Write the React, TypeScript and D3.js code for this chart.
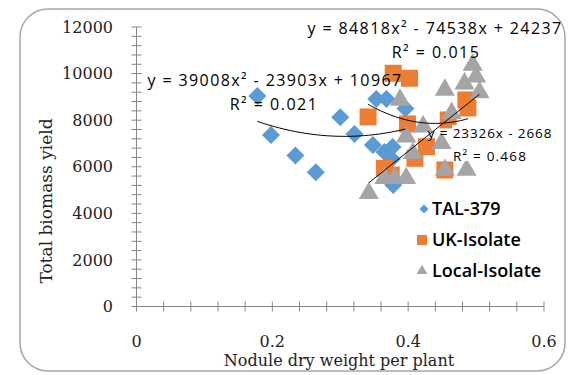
import React from 'react';
import * as d3 from 'd3';

const W = 570;
const H = 375;

// series: [nodule dry weight, total biomass]
const tal379: [number, number][] = [
  [0.178, 9040], [0.198, 7364], [0.234, 6483], [0.264, 5762], [0.300, 8128],
  [0.321, 7407], [0.353, 8910], [0.368, 8910], [0.348, 6935], [0.365, 6634],
  [0.377, 6849], [0.376, 6334], [0.378, 5217], [0.396, 8500],
];
const ukIsolate: [number, number][] = [
  [0.341, 8138], [0.378, 10014], [0.402, 9800], [0.399, 7837], [0.459, 8009],
  [0.485, 8867], [0.488, 8524], [0.365, 5934], [0.375, 5646], [0.410, 6363],
  [0.427, 6861], [0.454, 5861],
];
const localIsolate: [number, number][] = [
  [0.342, 4861], [0.365, 5505], [0.380, 5505], [0.397, 5505], [0.388, 8867],
  [0.454, 9297], [0.495, 10370], [0.500, 9867], [0.483, 9566], [0.505, 9190],
  [0.464, 8295], [0.422, 7721], [0.397, 7291], [0.407, 6578], [0.449, 7007],
  [0.454, 5861], [0.486, 5861],
];

// trendlines as printed on the chart
const talFit = [39008, -23903, 10967];
const ukFit = [84818, -74538, 24237];
const localFit = [0, 23326, -2668];

const seriesNames = ['TAL-379', 'UK-Isolate', 'Local-Isolate'];
const colors = ['#5B9BD5', '#ED7D31', '#A5A5A5'];

const yTicks = [0, 2000, 4000, 6000, 8000, 10000, 12000];
const xTicks = [0, 0.2, 0.4, 0.6];

const x = d3.scaleLinear().domain([0, 0.6]).range([136.5, 544]);
const y = d3.scaleLinear().domain([0, 12000]).range([306.5, 27]);

const fitPath = (c: number[], pts: [number, number][]) => {
  const [lo, hi] = d3.extent(pts, d => d[0]) as [number, number];
  const xs = d3.range(0, 41).map(i => lo + (hi - lo) * i / 40);
  return d3.line<number>()
    .x(v => x(v))
    .y(v => y(c[0] * v * v + c[1] * v + c[2]))(xs) || '';
};

const diamond = d3.symbol().type(d3.symbolSquare).size(162)() || '';
const square = d3.symbol().type(d3.symbolSquare).size(289)() || '';
const triangle = d3.symbol().type(d3.symbolTriangle).size(175)() || '';

const App = () => {
  const sans = '"Open Sans", sans-serif';
  const serif = '"DejaVu Serif", serif';
  const yMinor = d3.range(0, 12001, 400);
  const xMinor = d3.range(0, 0.6001, 0.04);

  return (
    <svg width={W} height={H} style={{ position: 'absolute', left: 0, top: 0 }}>
      <rect x={0} y={0} width={W} height={H} fill="#fff" />
      <rect x={20} y={9} width={545} height={362} rx={28} ry={28}
        fill="#fff" stroke="#A6A6A6" strokeWidth={1.5} />

      {/* axes */}
      <g stroke="#868686" strokeWidth={1}>
        <line x1={x(0)} x2={x(0)} y1={y(12000)} y2={y(0)} />
        <line x1={x(0)} x2={x(0.6)} y1={y(0)} y2={y(0)} />
        {yMinor.map(v => (
          <line key={'ym' + v} x1={x(0) - 5} x2={x(0) + 5} y1={y(v)} y2={y(v)} />
        ))}
        {xMinor.map(v => (
          <line key={'xm' + v} x1={x(v)} x2={x(v)} y1={y(0) - 5} y2={y(0) + 5} />
        ))}
      </g>
      <g fontFamily={serif} fontSize={16} fill="#222">
        {yTicks.map(v => (
          <text key={'yt' + v} x={113} y={y(v)} dy="0.35em" textAnchor="end">{v}</text>
        ))}
        {xTicks.map(v => (
          <text key={'xt' + v} x={x(v)} y={347} textAnchor="middle">{v}</text>
        ))}
        <text transform={`translate(52,201) rotate(-90)`} textAnchor="middle" fontSize={17}>
          Total biomass yield
        </text>
        <text x={339} y={366} textAnchor="middle">Nodule dry weight per plant</text>
      </g>

      {/* markers */}
      {tal379.map((d, i) => (
        <path key={'a' + i} d={diamond} fill={colors[0]}
          transform={`translate(${x(d[0])},${y(d[1])}) rotate(45)`} />
      ))}
      {ukIsolate.map((d, i) => (
        <path key={'b' + i} d={square} fill={colors[1]}
          transform={`translate(${x(d[0])},${y(d[1])})`} />
      ))}
      {localIsolate.map((d, i) => (
        <path key={'c' + i} d={triangle} fill={colors[2]}
          transform={`translate(${x(d[0])},${y(d[1])})`} />
      ))}

      {/* trendlines */}
      <g fill="none" stroke="#000" strokeWidth={1}>
        <path d={fitPath(talFit, tal379)} />
        <path d={fitPath(ukFit, ukIsolate)} />
        <path d={fitPath(localFit, localIsolate)} />
      </g>

      {/* trendline labels */}
      <rect x={452} y={125} width={106} height={36} fill="#fff" />
      <g fontFamily={sans} fill="#000">
        <text x={435} y={34} fontSize={16} letterSpacing={1.4} textAnchor="middle">y = 84818x² - 74538x + 24237</text>
        <text x={436} y={58} fontSize={16} letterSpacing={1.5} textAnchor="middle">R² = 0.015</text>
        <text x={275} y={86} fontSize={16} letterSpacing={1.4} textAnchor="middle">y = 39008x² - 23903x + 10967</text>
        <text x={274} y={110} fontSize={16} letterSpacing={1.5} textAnchor="middle">R² = 0.021</text>
        <text x={490} y={138} fontSize={13.5} letterSpacing={0.9} textAnchor="middle">y = 23326x  - 2668</text>
        <text x={490} y={161} fontSize={13.5} letterSpacing={1.2} textAnchor="middle">R² = 0.468</text>
      </g>

      {/* legend */}
      <g fontFamily={sans} fontSize={18} fontWeight={600} fill="#000">
        {seriesNames.map((name, i) => {
          const cy = 209 + i * 31;
          const mark = i === 0
            ? <path d={d3.symbol().type(d3.symbolSquare).size(40)() || ''} fill={colors[0]}
                transform={`translate(424,${cy}) rotate(45)`} />
            : i === 1
              ? <rect x={417} y={cy - 5} width={10} height={10} fill={colors[1]} />
              : <path d={d3.symbol().type(d3.symbolTriangle).size(50)() || ''} fill={colors[2]}
                  transform={`translate(422,${cy})`} />;
          return (
            <g key={name}>
              {mark}
              <text x={432} y={cy} dy="0.35em">{name}</text>
            </g>
          );
        })}
      </g>
    </svg>
  );
};

export default App;
